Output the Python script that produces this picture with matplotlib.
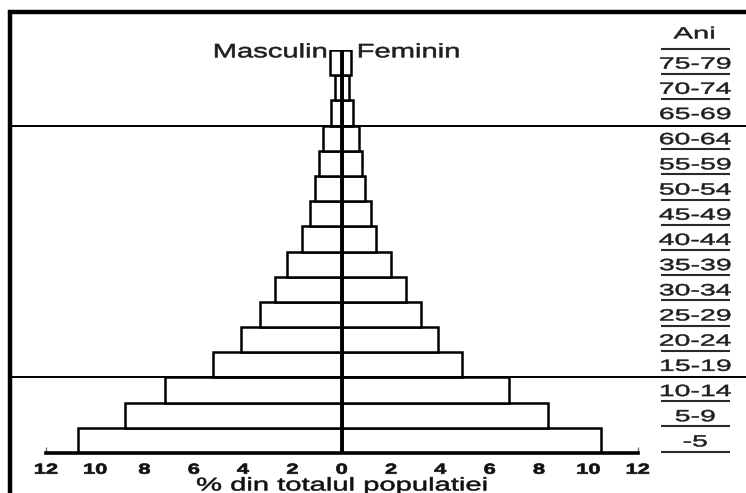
import matplotlib
matplotlib.use("Agg")
import matplotlib.pyplot as plt
import matplotlib.patheffects as pe
from matplotlib.transforms import Affine2D
from matplotlib.patches import Rectangle
import numpy as np

# ---------------- data ----------------
age_groups = ["-5", "5-9", "10-14", "15-19", "20-24", "25-29", "30-34", "35-39",
              "40-44", "45-49", "50-54", "55-59", "60-64", "65-69", "70-74", "75-79"]
masculin = [10.7, 8.8, 7.15, 5.2, 4.1, 3.3, 2.7, 2.2, 1.6, 1.3, 1.1, 0.92, 0.75, 0.42, 0.28, 0.48]
feminin = [10.5, 8.35, 6.8, 4.9, 3.9, 3.2, 2.6, 2.0, 1.4, 1.2, 0.95, 0.82, 0.72, 0.45, 0.3, 0.38]
x_ticks = [-12, -10, -8, -6, -4, -2, 0, 2, 4, 6, 8, 10, 12]
x_tick_labels = ["12", "10", "8", "6", "4", "2", "0", "2", "4", "6", "8", "10", "12"]
separator_groups = ["15-19", "65-69"]   # a line is drawn under these groups
label_male = "Masculin"
label_female = "Feminin"
label_ages = "Ani"
x_label = "% din totalul populatiei"


class Stretch(pe.AbstractPathEffect):
    """Draw text horizontally widened (the reference image is stretched)."""
    def __init__(self, sx, anchor="center", stroke=0.0):
        super().__init__()
        self.sx = sx
        self.anchor = anchor
        self.stroke = stroke

    def draw_path(self, renderer, gc, tpath, affine, rgbFace=None):
        v = tpath.vertices
        if len(v):
            lo, hi = v[:, 0].min(), v[:, 0].max()
            c = {"center": 0.5 * (lo + hi), "left": lo, "right": hi}[self.anchor]
        else:
            c = 0.0
        t = Affine2D().translate(-c, 0).scale(self.sx, 1.0).translate(c, 0) + affine
        gc0 = renderer.new_gc()
        gc0.copy_properties(gc)
        if self.stroke > 0 and rgbFace is not None:
            gc0.set_linewidth(self.stroke)
            gc0.set_foreground(rgbFace)
            gc0.set_joinstyle("round")
        renderer.draw_path(gc0, tpath, t, rgbFace)
        gc0.restore()


plt.rcParams['font.family'] = ['Liberation Sans', 'DejaVu Sans']

fig = plt.figure(figsize=(7.46, 4.93), dpi=100)
fig.patch.set_facecolor("white")
ax = fig.add_axes([0.0613, 0.0811, 0.7933, 0.8174])

n = len(age_groups)
rows = np.arange(n)
ypos = rows + 0.5

ax.barh(ypos, [-m for m in masculin], height=1.0, left=0, color="white",
        edgecolor="black", linewidth=1.8, zorder=2)
ax.barh(ypos, feminin, height=1.0, left=0, color="white",
        edgecolor="black", linewidth=1.8, zorder=2)
ax.axvline(0, color="black", linewidth=2.8, zorder=3)

ax.set_xlim(-12, 12)
ax.set_ylim(0, n)

# separator lines (full width of the frame)
for g in separator_groups:
    yb = age_groups.index(g)
    ax.axhline(yb, xmin=-0.062, xmax=1.25, color="black", linewidth=1.4,
               clip_on=False, zorder=4)

# spines
for s in ["top", "left", "right"]:
    ax.spines[s].set_visible(False)
ax.spines["bottom"].set_linewidth(2.6)
ax.spines["bottom"].set_color("black")

# x ticks
ax.set_xticks(x_ticks, labels=x_tick_labels)
ax.tick_params(axis="x", direction="in", length=4, width=1, color="#777777",
               labelsize=10.5, pad=7.0, labelcolor="#111111")
for lab in ax.get_xticklabels():
    lab.set_fontweight("bold")
    lab.set_path_effects([Stretch(1.5, stroke=0.5)])

# age labels on the right
ax.yaxis.tick_right()
ax.set_yticks(ypos, labels=age_groups)
ax.tick_params(axis="y", length=0, pad=41.4, labelsize=11.7, labelcolor="#1e1e1e")
for lab in ax.get_yticklabels():
    lab.set_horizontalalignment("center")
    lab.set_path_effects([Stretch(1.75, stroke=0.35)])

# underlines of the age column
lab_x0, lab_x1, lab_xc = 12.95, 15.75, 14.3
under_y = [r + 0.06 for r in range(n) if age_groups[r] not in separator_groups] + [n + 0.04]
ax.hlines(under_y, lab_x0, lab_x1, color="#2a2a2a", linewidth=1.5, clip_on=False)

ax.text(lab_xc, n + 0.46, label_ages, ha="center", va="baseline", fontsize=11.7,
        color="#1e1e1e", path_effects=[Stretch(1.8, stroke=0.35)], clip_on=False)

# sex labels
ax.text(-0.56, n - 0.29, label_male, ha="right", va="baseline", fontsize=14,
        color="#1e1e1e", path_effects=[Stretch(1.5, "right", stroke=0.4)], clip_on=False)
ax.text(0.61, n - 0.29, label_female, ha="left", va="baseline", fontsize=14,
        color="#1e1e1e", path_effects=[Stretch(1.5, "left", stroke=0.4)], clip_on=False)

# x label
ax.set_xlabel(x_label, fontsize=13.3, color="#111111")
ax.xaxis.set_label_coords(0.5, -0.0608)
ax.xaxis.label.set_path_effects([Stretch(1.58, stroke=0.4)])

# outer frame (left and top visible, rest beyond the picture)
fig.add_artist(Rectangle((9.5 / 746, -0.3), 1.5, 0.3 + (1 - 12 / 493),
                         transform=fig.transFigure, fill=False, edgecolor="black",
                         linewidth=3.2, clip_on=False))

fig.savefig("out.png", dpi=100)
